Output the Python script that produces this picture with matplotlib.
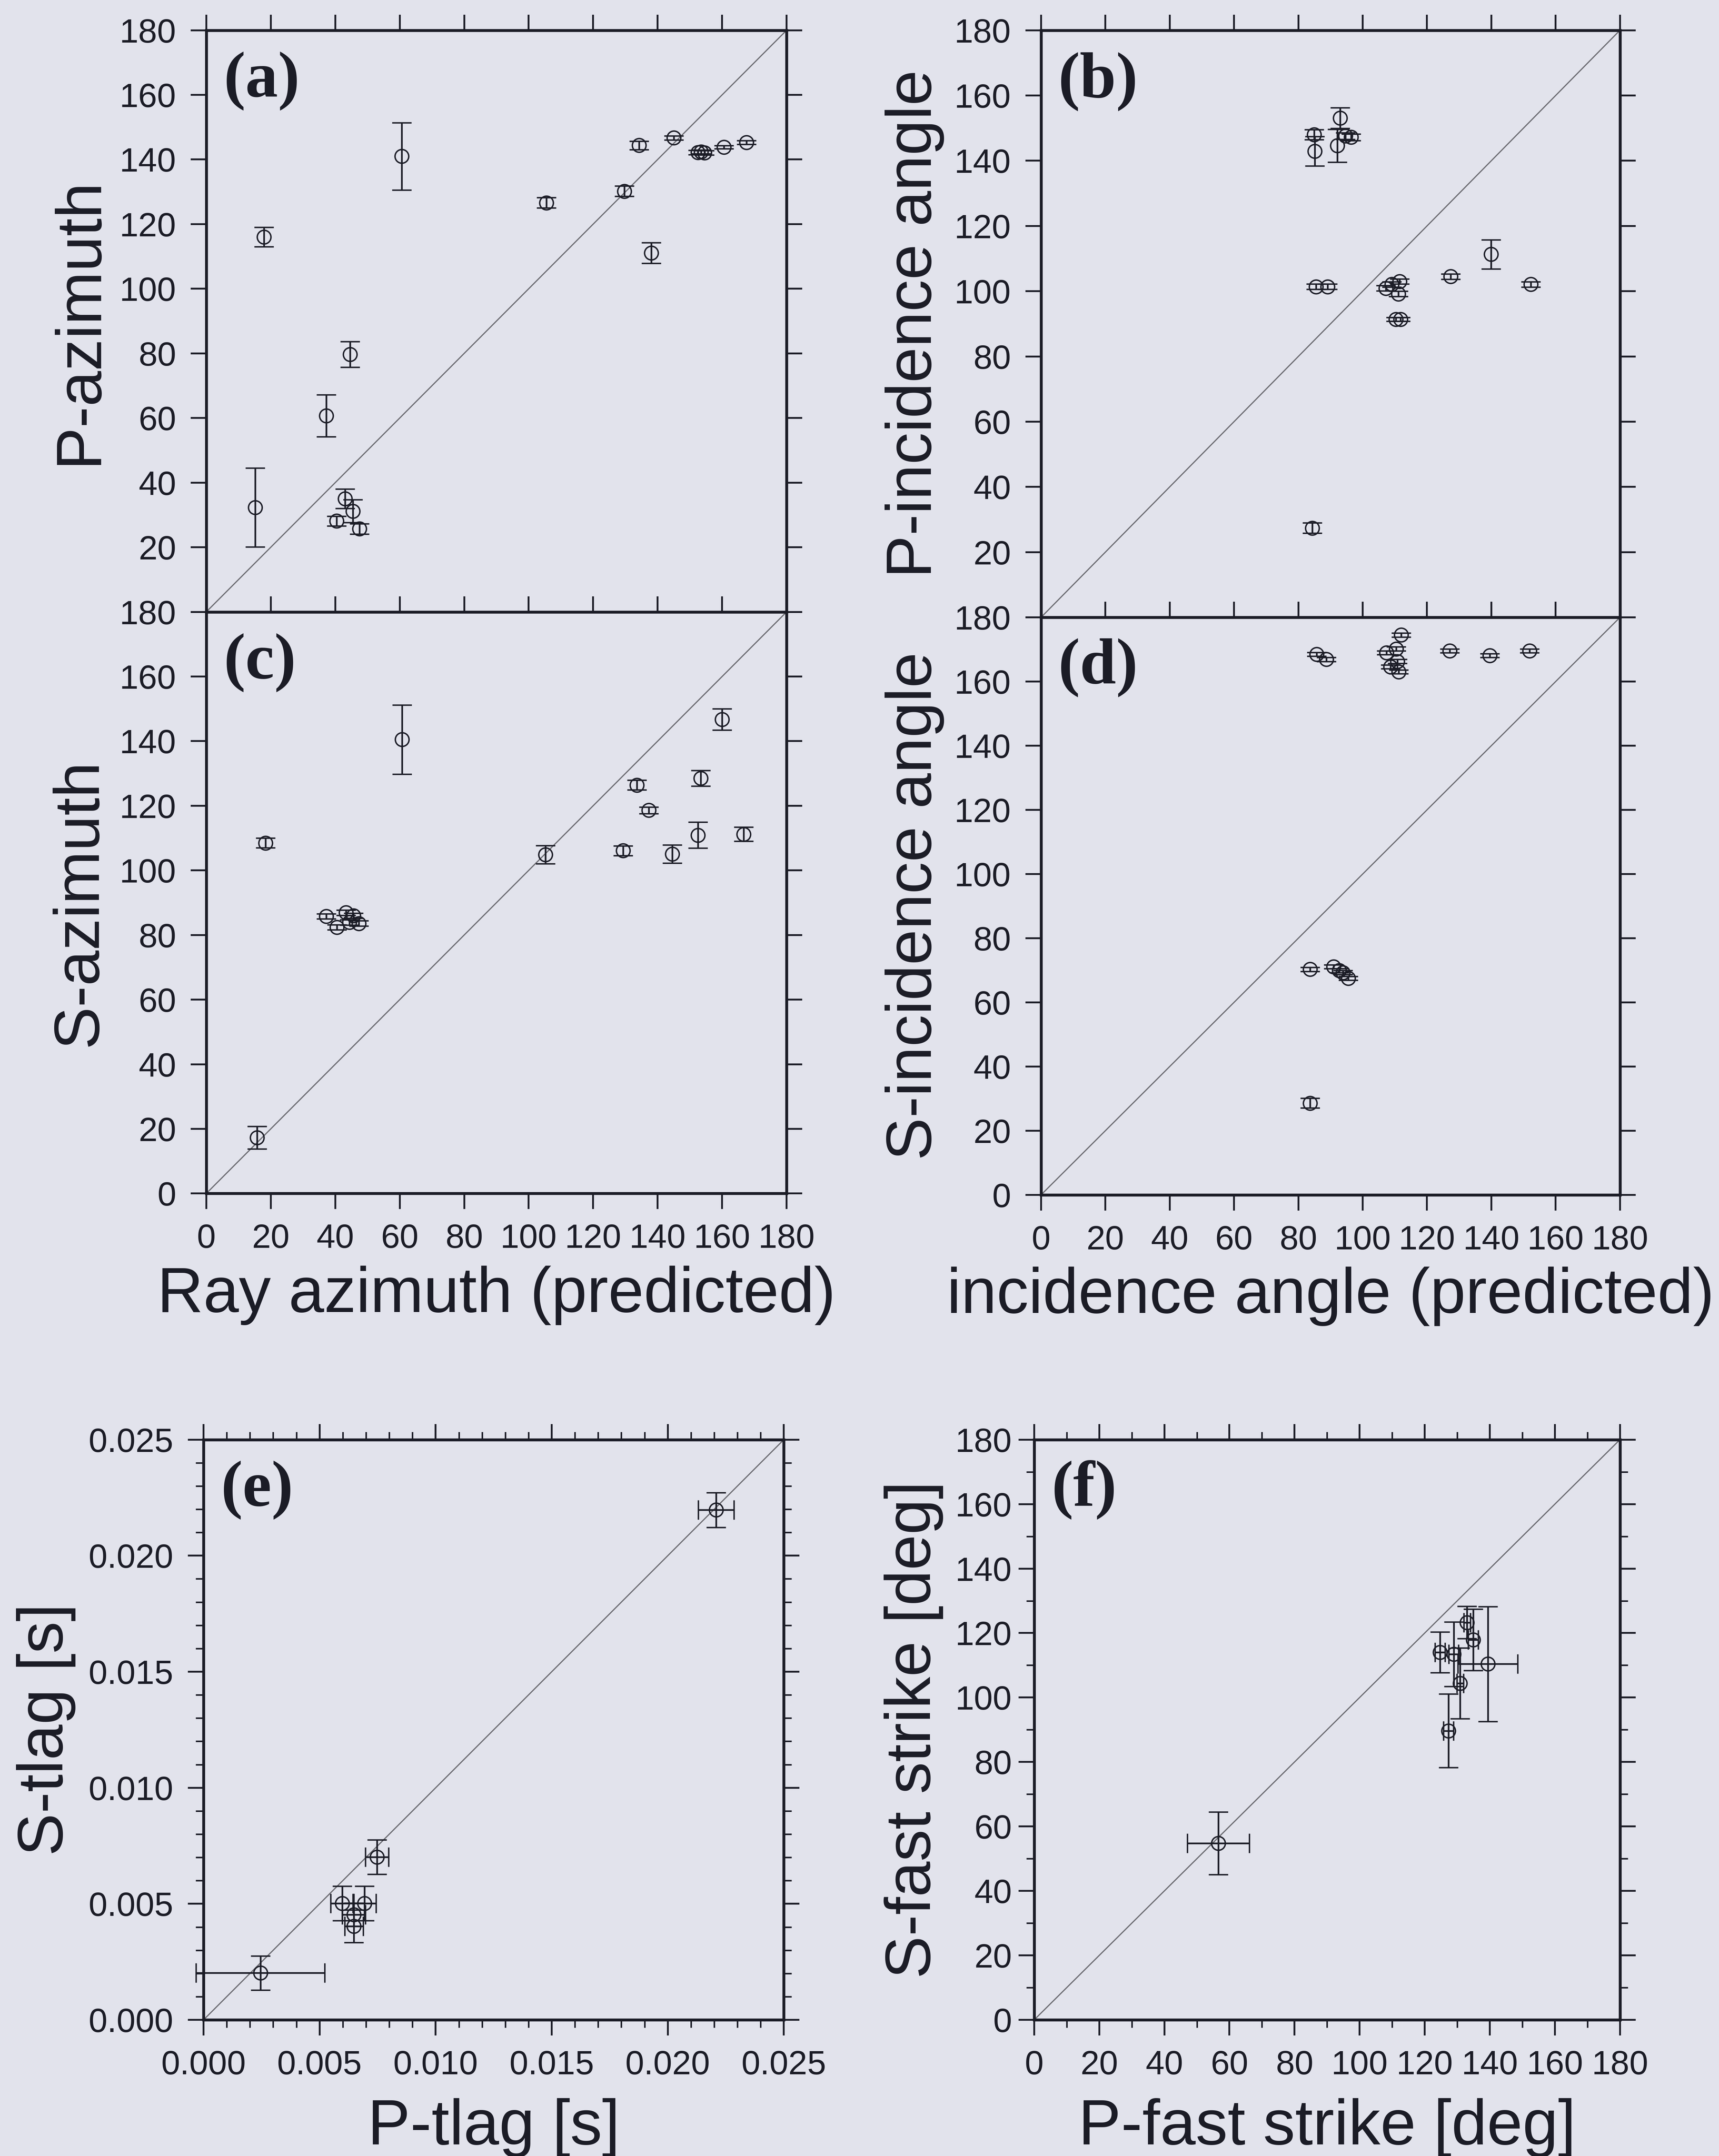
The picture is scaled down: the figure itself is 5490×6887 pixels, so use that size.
import matplotlib
matplotlib.use("Agg")
from matplotlib import pyplot as plt
from matplotlib.ticker import MultipleLocator, FormatStrFormatter

# (a) P-azimuth vs predicted ray azimuth
a_pred = [15.2, 17.9, 37.2, 44.6, 60.6, 40.4, 43.0, 45.5, 47.5, 105.5, 129.7,
          134.2, 145.0, 138.0, 152.5, 153.5, 154.5, 160.6, 167.5]
a_obs = [32.3, 116.0, 60.7, 79.7, 141.0, 28.1, 35.0, 31.2, 25.7, 126.6, 130.2,
         144.4, 146.7, 111.1, 142.2, 142.4, 142.1, 143.8, 145.3]
a_err = [12.2, 3.0, 6.5, 4.0, 10.4, 1.5, 3.0, 3.5, 1.6, 1.6, 1.6,
         1.3, 0.6, 3.2, 0.7, 0.6, 0.7, 0.5, 0.6]

# (b) P-incidence angle vs predicted incidence angle
b_pred = [84.9, 85.1, 93.0, 92.1, 94.6, 96.4, 85.5, 89.1, 107.2, 109.1, 111.5,
          111.1, 110.3, 111.8, 127.4, 139.9, 152.3, 84.3]
b_obs = [148.0, 142.9, 153.1, 144.6, 147.6, 147.2, 101.4, 101.4, 100.9, 102.1, 103.0,
         99.2, 91.4, 91.4, 104.5, 111.3, 102.1, 27.4]
b_err = [1.5, 4.5, 3.2, 5.0, 1.0, 1.0, 0.8, 0.8, 0.8, 0.8, 0.8,
         0.8, 0.6, 0.6, 0.8, 4.5, 0.8, 1.6]

# (c) S-azimuth vs predicted ray azimuth
c_pred = [15.8, 18.4, 60.7, 37.2, 40.5, 43.3, 45.7, 44.4, 47.3, 105.2, 129.3,
          133.6, 137.2, 144.5, 152.5, 153.4, 160.0, 166.7]
c_obs = [17.3, 108.5, 140.5, 85.8, 82.4, 86.9, 86.0, 83.9, 83.6, 104.9, 106.1,
         126.4, 118.6, 105.1, 110.9, 128.5, 146.7, 111.2]
c_err = [3.5, 1.5, 10.7, 0.8, 0.8, 0.8, 0.8, 0.8, 0.8, 2.8, 1.5,
         1.5, 1.0, 2.8, 4.0, 2.4, 3.3, 2.2]

# (d) S-incidence angle vs predicted incidence angle
d_pred = [85.7, 88.7, 107.4, 108.7, 110.4, 110.8, 111.2, 112.0, 127.1, 139.5,
          151.9, 83.6, 90.9, 92.7, 93.9, 95.5, 83.6]
d_obs = [168.5, 166.9, 169.0, 164.6, 170.2, 166.3, 163.0, 174.5, 169.6, 168.1,
         169.6, 70.3, 71.1, 69.9, 69.3, 67.5, 28.6]
d_err = [0.6, 0.6, 0.6, 0.6, 0.6, 0.6, 0.6, 0.6, 0.6, 0.6,
         0.6, 0.6, 0.6, 0.6, 0.6, 0.6, 1.5]

# (e) S-tlag vs P-tlag
e_p = [0.00245, 0.00597, 0.00693, 0.00648, 0.00648, 0.00747, 0.02208]
e_s = [0.00202, 0.00502, 0.00502, 0.00453, 0.00403, 0.00702, 0.02197]
e_perr = [0.00277, 0.0005, 0.0005, 0.0005, 0.0004, 0.0005, 0.00077]
e_serr = [0.00074, 0.00074, 0.00074, 0.0005, 0.0007, 0.00074, 0.00075]

# (f) S-fast strike vs P-fast strike
f_p = [56.6, 127.3, 124.7, 128.9, 130.9, 133.0, 134.9, 139.4]
f_s = [54.8, 89.7, 114.0, 113.4, 104.4, 123.3, 117.9, 110.4]
f_perr = [9.5, 1.5, 1.5, 1.5, 1.0, 1.0, 1.5, 9.2]
f_serr = [9.7, 11.4, 6.3, 10.0, 11.0, 5.0, 9.5, 17.8]

bg = "#e2e3ec"
ink = "#1b1c26"
plt.rcParams["font.family"] = ["Liberation Sans", "DejaVu Sans"]
plt.rcParams["text.color"] = ink
plt.rcParams["axes.labelcolor"] = ink
plt.rcParams["xtick.color"] = ink
plt.rcParams["ytick.color"] = ink

fig = plt.figure(figsize=(18.3, 6887 / 300), dpi=300, facecolor=bg)


def pos(l, t, r, b):
    # box given in pixels of the 1250x1568 preview
    return [l / 1250, 1 - b / 1568, (r - l) / 1250, (b - t) / 1568]


def style(ax, label, lim):
    ax.set_facecolor(bg)
    ax.set_xlim(0, lim)
    ax.set_ylim(0, lim)
    for s in ax.spines.values():
        s.set_linewidth(2.2)
        s.set_color(ink)
    ax.tick_params(which="major", direction="out", length=12, width=1.4,
                   labelsize=26, pad=11, top=True, right=True)
    ax.tick_params(which="minor", direction="out", length=6, width=1.2,
                   top=True, right=True)
    ax.axline((0, 0), slope=1, color="#6a6a70", lw=0.9, zorder=1)
    ax.text(0.03, 0.886, label, transform=ax.transAxes, ha="left",
            va="baseline", fontsize=50, fontweight="bold",
            family="Liberation Serif")


def draw(ax, x, y, yerr, xerr=None, clip=True):
    ax.errorbar(x, y, yerr=yerr, xerr=xerr, fmt="o", mfc="none", mec=ink,
                ms=10.5, mew=1.1, ecolor=ink, elinewidth=1.3, capsize=7.5,
                capthick=1.3, zorder=3, clip_on=clip)


deg_ticks = list(range(0, 181, 20))
deg_labels = [str(v) for v in deg_ticks]
top_labels = [""] + deg_labels[1:]

ax_a = fig.add_axes(pos(150, 22, 572, 445))
ax_c = fig.add_axes(pos(150, 445, 572, 868))
ax_b = fig.add_axes(pos(757, 22, 1178, 449))
ax_d = fig.add_axes(pos(757, 449, 1178, 869))
ax_e = fig.add_axes(pos(148, 1047, 570, 1469))
ax_f = fig.add_axes(pos(752, 1047, 1178, 1469))

for ax, lab in [(ax_a, "(a)"), (ax_b, "(b)"), (ax_c, "(c)"), (ax_d, "(d)")]:
    style(ax, lab, 180)
    ax.set_xticks(deg_ticks)
    ax.set_yticks(deg_ticks)

ax_a.set_xticklabels([])
ax_b.set_xticklabels([])
ax_a.set_yticklabels(top_labels)
ax_b.set_yticklabels(top_labels)
ax_c.set_xticklabels(deg_labels)
ax_d.set_xticklabels(deg_labels)

draw(ax_a, a_pred, a_obs, a_err)
draw(ax_b, b_pred, b_obs, b_err)
draw(ax_c, c_pred, c_obs, c_err)
draw(ax_d, d_pred, d_obs, d_err)

ax_a.set_ylabel("P-azimuth", fontsize=49)
ax_c.set_ylabel("S-azimuth", fontsize=49)
ax_c.set_xlabel("Ray azimuth (predicted)", fontsize=49)
ax_b.set_ylabel("P-incidence angle", fontsize=49)
ax_d.set_ylabel("S-incidence angle", fontsize=49)
ax_d.set_xlabel("incidence angle (predicted)", fontsize=49)
for ax in [ax_a, ax_b, ax_c, ax_d]:
    ax.yaxis.set_label_coords(-0.167, 0.5)
ax_c.xaxis.set_label_coords(0.5, -0.124)
ax_d.xaxis.set_label_coords(0.5, -0.124)

# tlag panel
style(ax_e, "(e)", 0.025)
ax_e.xaxis.set_major_locator(MultipleLocator(0.005))
ax_e.xaxis.set_minor_locator(MultipleLocator(0.001))
ax_e.yaxis.set_major_locator(MultipleLocator(0.005))
ax_e.yaxis.set_minor_locator(MultipleLocator(0.001))
ax_e.xaxis.set_major_formatter(FormatStrFormatter("%.3f"))
ax_e.yaxis.set_major_formatter(FormatStrFormatter("%.3f"))
draw(ax_e, e_p, e_s, e_serr, e_perr, clip=False)
ax_e.set_xlabel("P-tlag [s]", fontsize=49)
ax_e.set_ylabel("S-tlag [s]", fontsize=49)
ax_e.yaxis.set_label_coords(-0.22, 0.5)
ax_e.xaxis.set_label_coords(0.5, -0.135)

# fast strike panel
style(ax_f, "(f)", 180)
ax_f.xaxis.set_major_locator(MultipleLocator(20))
ax_f.xaxis.set_minor_locator(MultipleLocator(10))
ax_f.yaxis.set_major_locator(MultipleLocator(20))
ax_f.yaxis.set_minor_locator(MultipleLocator(10))
ax_f.tick_params(axis="y", which="major", pad=5)
draw(ax_f, f_p, f_s, f_serr, f_perr)
ax_f.set_xlabel("P-fast strike [deg]", fontsize=49)
ax_f.set_ylabel("S-fast strike [deg]", fontsize=49)
ax_f.yaxis.set_label_coords(-0.155, 0.5)
ax_f.xaxis.set_label_coords(0.5, -0.135)

fig.savefig("out.png", dpi=300, facecolor=bg)
